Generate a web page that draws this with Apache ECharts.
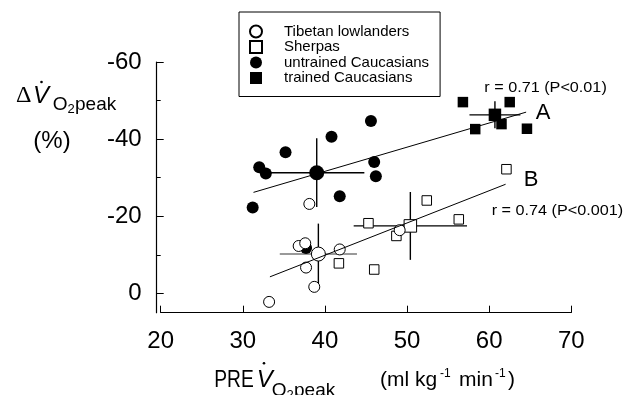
<!DOCTYPE html>
<html>
<head>
<meta charset="utf-8">
<script src="https://cdn.jsdelivr.net/npm/echarts@6/dist/echarts.min.js"></script>
<style>
html, body { margin: 0; padding: 0; background: #fff; }
#chart { width: 629px; height: 395px; }
</style>
</head>
<body>
<div id="chart"></div>
<script>
// PRE VO2peak (x) vs change of VO2peak in % (y, negative = decrease)
var tibetanX = [38.1, 36.8, 37.6, 41.8, 49.1, 37.7, 38.7, 33.2];
var tibetanY = [-23.2, -12.3, -13.0, -11.4, -16.4, -6.7, -1.7, 2.2];
var sherpaX = [62.1, 52.4, 45.3, 48.7, 41.7, 46.0, 56.3];
var sherpaY = [-32.2, -24.1, -18.2, -14.9, -7.8, -6.2, -19.2];
var untrainedX = [45.6, 40.8, 35.2, 32.0, 32.8, 46.0, 46.2, 41.8, 31.2, 37.7];
var untrainedY = [-44.7, -40.6, -36.6, -32.7, -31.1, -34.1, -30.4, -25.2, -22.3, -11.8];
var trainedX = [56.8, 62.5, 58.3, 61.5, 64.6];
var trainedY = [-49.6, -49.6, -42.6, -43.9, -42.7];

// group means: [x, y, sd x, sd y]
var meanTibetan = [39.2, -10.2, 4.7, 7.9];
var meanSherpa = [50.4, -17.5, 6.9, 8.8];
var meanUntrained = [39.0, -31.3, 5.8, 8.9];
var meanTrained = [60.7, -46.3, 3.1, 3.5];

// regression lines
var lineA = [[31.3, -26.2], [64.5, -47.0]];
var lineB = [[33.3, -4.3], [62.0, -28.3]];

var yLabelTicks = [-60, -40, -20, 0];
var yMinorTicks = [-50, -30, -10];

var FONT = 'Liberation Sans, Arial, sans-serif';

function pts(xs, ys) {
    return xs.map(function (x, i) { return [x, ys[i]]; });
}
function withMean(xs, ys, m, size) {
    var d = pts(xs, ys);
    d.push({ value: [m[0], m[1]], symbolSize: size });
    return d;
}

var chart = echarts.init(document.getElementById('chart'));

function txt(s, x, y, size, extra, sx) {
    var st = { text: s, fontSize: size, fontFamily: FONT, fill: '#000', textAlign: 'left', textVerticalAlign: 'middle' };
    for (var k in extra) st[k] = extra[k];
    return { type: 'text', x: x, y: y, scaleX: sx || 1, style: st, z: 100 };
}
function dot(x, y) {
    return { type: 'circle', shape: { cx: x, cy: y, r: 1.3 }, style: { fill: '#000' }, z: 100 };
}

var openStyle = { color: '#fff', borderColor: '#000', borderWidth: 1, opacity: 1 };
var fillStyle = { color: '#000', borderColor: '#000', borderWidth: 0, opacity: 1 };

var option = {
    animation: false,
    backgroundColor: '#fff',
    grid: { left: 160.7, right: 57.7, top: 62, bottom: 82.3 },
    legend: {
        orient: 'vertical',
        left: 239,
        top: 12,
        padding: [12, 11, 11, 10],
        itemWidth: 12,
        itemHeight: 12,
        itemGap: 0.5,
        borderColor: '#000',
        borderWidth: 1,
        textStyle: { fontSize: 15, lineHeight: 15, fontFamily: FONT, color: '#000', padding: [0, 0, 0, 17] },
        data: [
            { name: 'Tibetan lowlanders', icon: 'circle' },
            { name: 'Sherpas', icon: 'rect' },
            { name: 'untrained Caucasians', icon: 'circle' },
            { name: 'trained Caucasians', icon: 'rect' }
        ]
    },
    xAxis: {
        type: 'value',
        min: 20,
        max: 70,
        interval: 10,
        axisLine: { onZero: false, lineStyle: { color: '#000', width: 1.2 } },
        axisTick: { inside: true, length: 7, lineStyle: { color: '#000' } },
        axisLabel: { fontSize: 24, fontFamily: FONT, color: '#000', margin: 17 },
        splitLine: { show: false }
    },
    yAxis: [{
        type: 'value',
        inverse: true,
        min: -60,
        max: 5,
        interval: 10,
        offset: 4,
        axisLine: { show: true, onZero: false, lineStyle: { color: '#000', width: 1.2 } },
        axisTick: { inside: true, length: 7, customValues: yLabelTicks, lineStyle: { color: '#000' } },
        axisLabel: { customValues: yLabelTicks, fontSize: 24, fontFamily: FONT, color: '#000', margin: 15 },
        splitLine: { show: false }
    }, {
        type: 'value',
        position: 'left',
        inverse: true,
        min: -60,
        max: 5,
        interval: 10,
        offset: 4,
        axisLine: { show: false, onZero: false },
        axisTick: { inside: true, length: 4, customValues: yMinorTicks, lineStyle: { color: '#000' } },
        axisLabel: { show: false },
        splitLine: { show: false }
    }],
    series: [
        {
            name: 'lineA', type: 'line', data: lineA, symbol: 'none', silent: true,
            lineStyle: { color: '#000', width: 1 }
        },
        {
            name: 'lineB', type: 'line', data: lineB, symbol: 'none', silent: true,
            lineStyle: { color: '#000', width: 1 }
        },
        {
            name: 'sd',
            type: 'custom',
            encode: { x: 0, y: 1 },
            data: [meanTibetan, meanSherpa, meanUntrained, meanTrained],
            renderItem: function (params, api) {
                var x = api.value(0), y = api.value(1), ex = api.value(2), ey = api.value(3);
                var l = api.coord([x - ex, y]), r = api.coord([x + ex, y]);
                var t = api.coord([x, y - ey]), b = api.coord([x, y + ey]);
                var hc = params.dataIndex === 0 ? '#777' : '#000';
                return {
                    type: 'group',
                    children: [
                        { type: 'line', shape: { x1: l[0], y1: l[1], x2: r[0], y2: r[1] }, style: { stroke: hc, lineWidth: 1.4 } },
                        { type: 'line', shape: { x1: t[0], y1: t[1], x2: b[0], y2: b[1] }, style: { stroke: '#000', lineWidth: 1.4 } }
                    ]
                };
            }
        },
        {
            name: 'untrained Caucasians', type: 'scatter', symbol: 'circle', symbolSize: 12,
            itemStyle: fillStyle, data: withMean(untrainedX, untrainedY, meanUntrained, 15)
        },
        {
            name: 'trained Caucasians', type: 'scatter', symbol: 'rect', symbolSize: 10.5,
            itemStyle: fillStyle, data: withMean(trainedX, trainedY, meanTrained, 12.5)
        },
        {
            name: 'Sherpas', type: 'scatter', symbol: 'rect', symbolSize: 9.5,
            itemStyle: openStyle, data: withMean(sherpaX, sherpaY, meanSherpa, 12.5)
        },
        {
            name: 'Tibetan lowlanders', type: 'scatter', symbol: 'circle', symbolSize: 11,
            itemStyle: openStyle, data: withMean(tibetanX, tibetanY, meanTibetan, 14)
        }
    ],
    graphic: [
        // y axis title
        txt('Δ', 16, 96, 24, { fontFamily: 'Liberation Serif, serif' }),
        txt('V', 33, 96, 24, { fontStyle: 'italic' }),
        dot(41.5, 82),
        txt('O', 52.7, 105, 19),
        txt('2', 67.5, 109, 13),
        txt('peak', 75, 105, 19),
        txt('(%)', 52, 141.7, 24, { textAlign: 'center' }),
        // x axis title
        txt('PRE', 214.3, 380, 24, {}, 0.8),
        txt('V', 256.7, 380, 24, { fontStyle: 'italic' }),
        dot(264, 363.3),
        txt('O', 271.7, 391, 19),
        txt('2', 286.5, 395.5, 13),
        txt('peak', 294, 391, 19),
        txt('(ml kg', 380, 380, 21),
        txt('-1', 440, 374, 12),
        txt('min', 459, 380, 21),
        txt('-1', 495, 374, 12),
        txt(')', 508, 380, 21),
        // annotations
        txt('A', 543, 112.5, 22, { textAlign: 'center' }),
        txt('r = 0.71 (P<0.01)', 484.3, 87.7, 15, {}, 1.08),
        txt('B', 531, 179.5, 22, { textAlign: 'center' }),
        txt('r = 0.74 (P<0.001)', 491.7, 210.7, 15, {}, 1.08)
    ]
};

chart.setOption(option);
</script>
</body>
</html>
